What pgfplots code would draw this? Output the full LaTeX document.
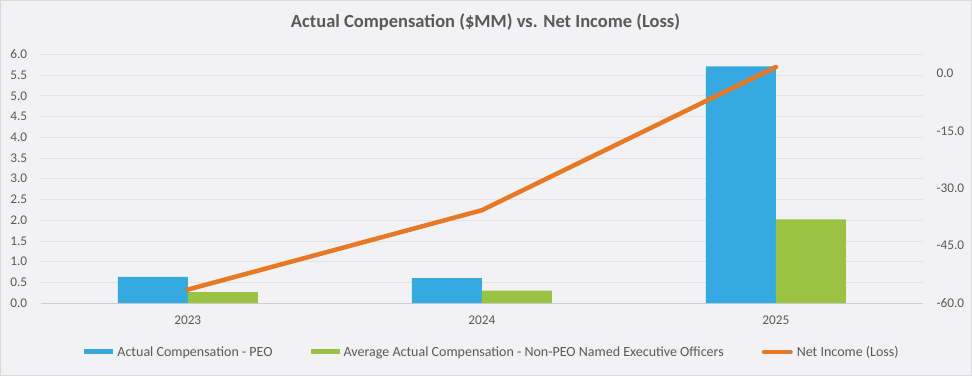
\documentclass[border=0pt]{standalone}
\usepackage{pgfplots}
\pgfplotsset{compat=1.18}
\usepackage{fontspec}
\setmainfont{Carlito}
\definecolor{bg}{RGB}{242,242,244}
\definecolor{framec}{RGB}{217,217,217}
\definecolor{peo}{RGB}{52,170,225}
\definecolor{neo}{RGB}{155,195,67}
\definecolor{ni}{RGB}{232,120,35}
\definecolor{txt}{RGB}{89,89,89}
\definecolor{gridc}{RGB}{226,226,229}
\definecolor{axc}{RGB}{205,205,208}
\begin{document}
\begin{tikzpicture}[x=1pt,y=1pt]
\path[use as bounding box, fill=bg, draw=framec, line width=1pt] (0.5,0.5) rectangle (971.5,375.5);
\node[font=\fontsize{18.5}{22}\selectfont\bfseries, text=txt] at (485.5,354) {Actual Compensation (\$MM) vs. Net Income (Loss)};
\begin{axis}[
  at={(40.7pt,73pt)}, anchor=south west,
  scale only axis, width=882.3pt, height=248.7pt,
  xmin=-0.5, xmax=2.5, ymin=0, ymax=6,
  xtick={0,1,2}, xticklabels={2023,2024,2025},
  ytick={0,0.5,1,1.5,2,2.5,3,3.5,4,4.5,5,5.5,6},
  axis x line*=bottom, axis y line*=left,
  y axis line style={draw=none},
  x axis line style={draw=axc, line width=0.8pt, -},
  major tick length=0pt,
  ymajorgrids, grid style={gridc, line width=0.6pt},
  tick label style={font=\fontsize{13.3}{15}\selectfont, text=txt},
  xticklabel style={yshift=-9pt},
  yticklabel style={xshift=-10pt},
  /pgf/number format/assume math mode=true,
  yticklabel={\pgfmathprintnumber[fixed, fixed zerofill, precision=1]{\tick}},
  ybar=0pt, bar width=70pt,
  legend style={at={(0.511,-0.197)}, anchor=center, draw=none, fill=none,
    font=\fontsize{14}{16}\selectfont, text=txt,
    /tikz/every odd column/.append style={column sep=4pt},
    /tikz/every even column/.append style={column sep=38pt},
    nodes={inner xsep=0pt}},
  legend columns=3,
]
\addplot[fill=peo, draw=none, legend image code/.code={\fill[peo] (0pt,-2.5pt) rectangle (29pt,2.5pt);}]
  coordinates {(0,0.63) (1,0.60) (2,5.71)};
\addlegendentry{Actual Compensation - PEO}
\addplot[fill=neo, draw=none, legend image code/.code={\fill[neo] (0pt,-2.5pt) rectangle (29pt,2.5pt);}]
  coordinates {(0,0.26) (1,0.30) (2,2.02)};
\addlegendentry{Average Actual Compensation - Non-PEO Named Executive Officers}
\addlegendimage{legend image code/.code={\draw[ni, line width=4.5pt, line cap=round] (2.5pt,0pt) -- (29pt,0pt);}}
\addlegendentry{Net Income (Loss)}
\end{axis}
\begin{axis}[
  at={(40.7pt,73pt)}, anchor=south west,
  scale only axis, width=882.3pt, height=248.7pt,
  xmin=-0.5, xmax=2.5, ymin=-60, ymax=5,
  axis x line=none, axis y line*=right,
  y axis line style={draw=none},
  major tick length=0pt,
  ytick={-60,-45,-30,-15,0},
  tick label style={font=\fontsize{13.3}{15}\selectfont, text=txt},
  yticklabel style={xshift=10pt},
  /pgf/number format/assume math mode=true,
  yticklabel={\pgfmathprintnumber[fixed, fixed zerofill, precision=1]{\tick}},
]
\addplot[ni, line width=4.5pt, line cap=round, line join=round] coordinates {(0,-56.5) (1,-35.75) (2,1.7)};
\end{axis}
\end{tikzpicture}
\end{document}
